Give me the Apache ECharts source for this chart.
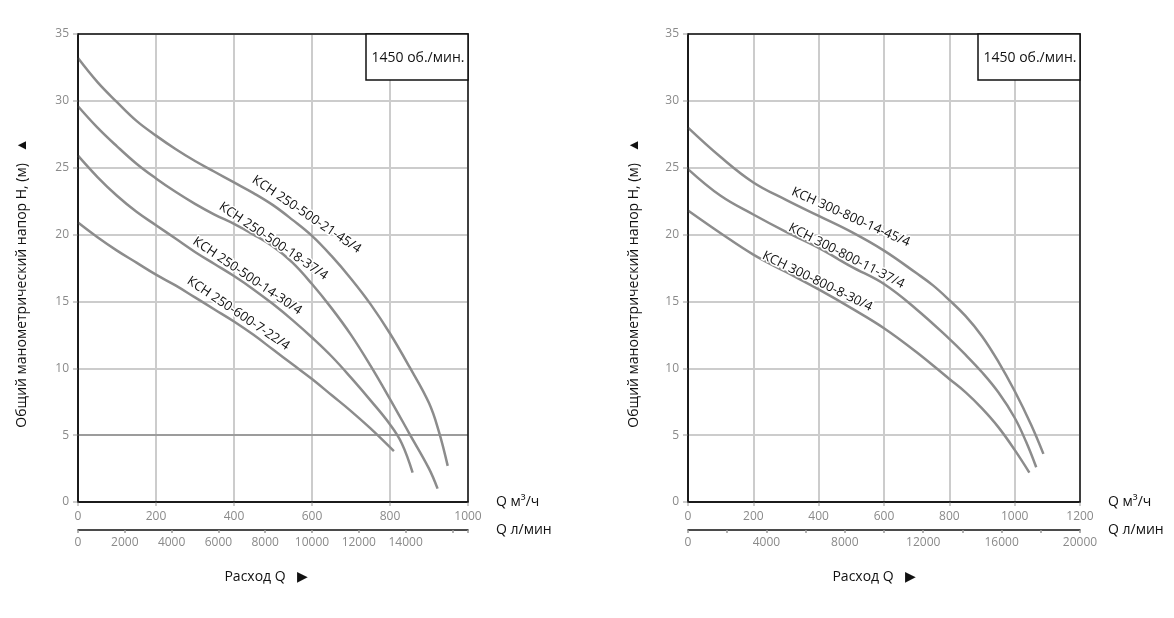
<!DOCTYPE html>
<html>
<head>
<meta charset="utf-8">
<script src="https://cdn.jsdelivr.net/npm/echarts@6/dist/echarts.min.js"></script>
<style>
  html, body { margin: 0; padding: 0; background: #fff; }
  #main { width: 1174px; height: 618px; }
</style>
</head>
<body>
<div id="main"></div>
<script>
// ---- data (Q in m3/h, H in m) ----
// left chart
var qA1 = [0, 50, 100, 150, 200, 250, 300, 350, 400, 450, 500, 550, 600, 650, 700, 750, 800, 850, 900, 925, 948];
var hA1 = [33.2, 31.4, 29.9, 28.5, 27.4, 26.4, 25.5, 24.7, 23.9, 23.1, 22.2, 21.1, 19.9, 18.4, 16.7, 14.8, 12.6, 10.1, 7.4, 5.3, 2.7];
var qA2 = [0, 50, 100, 150, 200, 250, 300, 350, 400, 450, 500, 550, 600, 650, 700, 750, 800, 850, 900, 922];
var hA2 = [29.6, 28.0, 26.6, 25.3, 24.2, 23.2, 22.3, 21.5, 20.8, 20.0, 19.1, 17.9, 16.3, 14.5, 12.5, 10.2, 7.7, 5.1, 2.5, 1.0];
var qA3 = [0, 50, 100, 150, 200, 250, 300, 350, 400, 450, 500, 550, 600, 650, 700, 750, 800, 830, 858];
var hA3 = [25.9, 24.3, 22.9, 21.7, 20.7, 19.7, 18.7, 17.8, 16.9, 15.9, 14.8, 13.6, 12.3, 10.9, 9.3, 7.6, 5.8, 4.4, 2.2];
var qA4 = [0, 50, 100, 150, 200, 250, 300, 350, 400, 450, 500, 550, 600, 650, 700, 750, 810];
var hA4 = [20.9, 19.8, 18.8, 17.9, 17.0, 16.2, 15.3, 14.4, 13.5, 12.5, 11.4, 10.3, 9.2, 8.0, 6.8, 5.5, 3.8];
var namesA = ['КСН 250-500-21-45/4', 'КСН 250-500-18-37/4', 'КСН 250-500-14-30/4', 'КСН 250-600-7-22/4'];

// right chart
var qB1 = [0, 100, 200, 300, 400, 500, 600, 700, 750, 800, 850, 900, 950, 1000, 1050, 1088];
var hB1 = [28.0, 25.8, 23.9, 22.6, 21.4, 20.2, 18.8, 17.1, 16.2, 15.1, 13.9, 12.4, 10.5, 8.3, 5.8, 3.6];
var qB2 = [0, 100, 200, 300, 400, 500, 600, 700, 800, 850, 900, 950, 1000, 1035, 1066];
var hB2 = [24.9, 22.9, 21.5, 20.2, 19.0, 17.6, 16.3, 14.4, 12.2, 11.0, 9.7, 8.2, 6.3, 4.5, 2.6];
var qB3 = [0, 100, 200, 300, 400, 500, 600, 700, 800, 850, 900, 950, 1000, 1045];
var hB3 = [21.8, 20.1, 18.5, 17.2, 15.9, 14.5, 13.0, 11.2, 9.2, 8.2, 7.0, 5.6, 3.9, 2.2];
var namesB = ['КСН 300-800-14-45/4', 'КСН 300-800-11-37/4', 'КСН 300-800-8-30/4'];

var speedText = '1450 об./мин.';
var headTitle = 'Общий манометрический напор H, (м)';
var flowTitle = 'Расход Q';

// where the curve names sit, [Q, H] and angle in degrees
var tagsA = [[586, 21.5, 34], [501, 19.5, 34], [434, 16.9, 34], [411, 14.1, 34]];
var tagsB = [[498, 21.3, 24], [485, 18.4, 27], [396, 16.5, 26]];

var chart = echarts.init(document.getElementById('main'));
var font = '"Open Sans", "Noto Sans", sans-serif';
var grey = '#8a8a8a';
var gridGrey = '#cccccc';

function pairs(q, h) {
    return q.map(function (v, i) { return [v, h[i]]; });
}

function curve(name, xi, yi, q, h) {
    return {
        name: name,
        type: 'line',
        xAxisIndex: xi,
        yAxisIndex: yi,
        smooth: 0.4,
        symbol: 'none',
        lineStyle: { color: '#8c8c8c', width: 2.5 },
        data: pairs(q, h),
        z: 3
    };
}

function flowAxis(grid, max) {
    return {
        gridIndex: grid, type: 'value', min: 0, max: max, interval: 200,
        position: 'bottom',
        name: 'Q м³/ч', nameLocation: 'end', nameGap: 28,
        nameTextStyle: { color: '#111', fontSize: 14, fontFamily: font, verticalAlign: 'middle' },
        axisLine: { show: true, onZero: false, lineStyle: { color: '#111', width: 1.5 } },
        axisTick: { show: true, length: 4, lineStyle: { color: gridGrey, width: 2 } },
        axisLabel: { color: grey, fontSize: 12, fontFamily: font, margin: 9, formatter: function (v) { return String(v); } },
        splitLine: { show: true, lineStyle: { color: gridGrey, width: 2, type: 'solid', opacity: 1 } }
    };
}

function litreAxis(grid, max, step, labelStep, lastLabel) {
    return {
        gridIndex: grid, type: 'value', min: 0, max: max, interval: step,
        position: 'bottom', offset: 28,
        name: 'Q л/мин', nameLocation: 'end', nameGap: 28,
        nameTextStyle: { color: '#111', fontSize: 14, fontFamily: font, verticalAlign: 'middle' },
        axisLine: { show: true, onZero: false, lineStyle: { color: '#111', width: 1.5 } },
        axisTick: { show: true, length: 3, lineStyle: { color: '#999', width: 1.5 } },
        axisLabel: {
            color: grey, fontSize: 12, fontFamily: font, margin: 7,
            formatter: function (v) {
                if (v > lastLabel + 1 || Math.round(v) % labelStep !== 0) return '';
                return String(Math.round(v));
            }
        },
        splitLine: { show: false }
    };
}

function headAxis(grid) {
    return {
        gridIndex: grid, type: 'value', min: 0, max: 35, interval: 5,
        axisLine: { show: true, onZero: false, lineStyle: { color: '#111', width: 1.5 } },
        axisTick: { show: true, length: 5, lineStyle: { color: gridGrey, width: 2 } },
        axisLabel: { color: grey, fontSize: 12, fontFamily: font, margin: 9 },
        splitLine: { show: true, lineStyle: { color: gridGrey, width: 2, type: 'solid', opacity: 1 } }
    };
}

var seriesA = [curve(namesA[0], 0, 0, qA1, hA1), curve(namesA[1], 0, 0, qA2, hA2),
               curve(namesA[2], 0, 0, qA3, hA3), curve(namesA[3], 0, 0, qA4, hA4)];
seriesA[0].markLine = {
    silent: true, symbol: 'none', label: { show: false },
    lineStyle: { color: '#9c9c9c', width: 2, type: 'solid' },
    data: [{ yAxis: 5 }], z: 1
};
var seriesB = [curve(namesB[0], 2, 1, qB1, hB1), curve(namesB[1], 2, 1, qB2, hB2),
               curve(namesB[2], 2, 1, qB3, hB3)];

var option = {
    animation: false,
    backgroundColor: '#fff',
    textStyle: { fontFamily: font },
    grid: [
        { left: 78, top: 34, width: 390, height: 468 },
        { left: 688, top: 34, width: 392, height: 468 }
    ],
    xAxis: [
        flowAxis(0, 1000),
        litreAxis(0, 1000 * 1000 / 60, 2000, 2000, 14000),
        flowAxis(1, 1200),
        litreAxis(1, 20000, 2000, 4000, 20000)
    ],
    yAxis: [headAxis(0), headAxis(1)],
    series: seriesA.concat(seriesB)
};
chart.setOption(option);

// texts placed after the scales exist
function tagTexts(names, tags, xi, yi) {
    return names.map(function (n, i) {
        var p = chart.convertToPixel({ xAxisIndex: xi, yAxisIndex: yi }, [tags[i][0], tags[i][1]]);
        return {
            type: 'text', x: p[0], y: p[1], rotation: -tags[i][2] * Math.PI / 180, z: 10,
            style: {
                text: n, fill: '#111', font: '13px ' + font,
                align: 'center', verticalAlign: 'middle',
                stroke: '#fff', lineWidth: 3
            }
        };
    });
}

function frameTexts(gx, gLeft, gRight) {
    return [
        {
            type: 'rect', z: 9, silent: true,
            shape: { x: gLeft, y: 34, width: gRight - gLeft, height: 468 },
            style: { fill: null, stroke: '#111', lineWidth: 1.5 }
        },
        {
            type: 'rect', z: 10,
            shape: { x: gRight - 102, y: 34, width: 102, height: 46 },
            style: { fill: '#fff', stroke: '#111', lineWidth: 1.5 }
        },
        {
            type: 'text', x: gRight - 50, y: 58, z: 11,
            style: { text: speedText, fill: '#111', font: '14px ' + font, align: 'center', verticalAlign: 'middle' }
        },
        {
            type: 'text', x: gx, y: 283, rotation: Math.PI / 2, z: 10,
            style: { text: headTitle + '   ▲', fill: '#111', font: '14px ' + font, align: 'center', verticalAlign: 'middle' }
        }
    ];
}

var graphics = []
    .concat(tagTexts(namesA, tagsA, 0, 0))
    .concat(tagTexts(namesB, tagsB, 2, 1))
    .concat(frameTexts(22, 78, 468))
    .concat(frameTexts(634, 688, 1080))
    .concat([
        { type: 'text', x: 266, y: 577, style: { text: flowTitle + '   ▶', fill: '#111', font: '14px ' + font, align: 'center', verticalAlign: 'middle' } },
        { type: 'text', x: 874, y: 577, style: { text: flowTitle + '   ▶', fill: '#111', font: '14px ' + font, align: 'center', verticalAlign: 'middle' } }
    ]);

chart.setOption({ graphic: graphics });
</script>
</body>
</html>
